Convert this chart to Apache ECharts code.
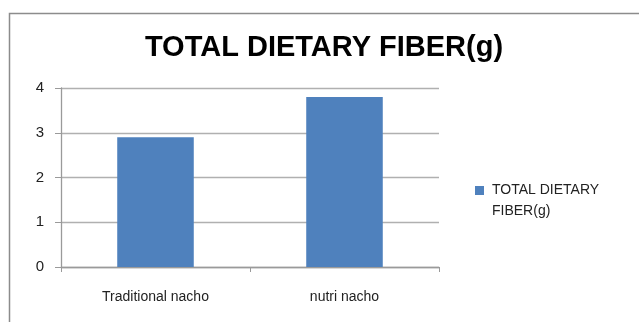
<!DOCTYPE html>
<html>
<head>
<meta charset="utf-8">
<script src="https://cdn.jsdelivr.net/npm/echarts@6/dist/echarts.min.js"></script>
<style>
  html, body { margin: 0; padding: 0; background: #fff; }
  #chart { width: 639px; height: 322px; }
</style>
</head>
<body>
<div id="chart"></div>
<script>
// Fibre content per product
const categories = ['Traditional nacho', 'nutri nacho'];
const fiberValues = [2.9, 3.8];
const seriesName = 'TOTAL DIETARY FIBER(g)';
const yTicks = [0, 1, 2, 3, 4];

const chart = echarts.init(document.getElementById('chart'), null, { renderer: 'canvas' });
const font = '"Liberation Sans", Arial, sans-serif';

// Legend marker: a 9px square at the top of a 9x30 box, so it sits beside
// the first line of the two-line legend label instead of between the lines.
const legendIcon = 'path://M0,0h9v9h-9zM0,30';

chart.setOption({
  animation: false,
  backgroundColor: '#ffffff',
  graphic: [{
    type: 'rect',
    left: 7, top: 11,
    shape: { width: 700, height: 400 },
    style: { fill: 'none', stroke: '#8c8c8c', lineWidth: 1.5 },
    silent: true
  }],
  title: {
    text: seriesName,
    left: 319, top: 28, textAlign: 'center',
    textStyle: { fontFamily: font, fontWeight: 'bold', fontSize: 29, color: '#000' }
  },
  legend: {
    data: [seriesName],
    left: 470, top: 175,
    itemWidth: 9, itemHeight: 30, itemGap: 6,
    icon: legendIcon,
    formatter: () => 'TOTAL DIETARY\nFIBER(g)',
    textStyle: { fontFamily: font, fontSize: 14, color: '#222', lineHeight: 21, padding: [0, 0, 0, 3] }
  },
  grid: { left: 61, top: 88, right: 200, bottom: 55 },
  xAxis: {
    type: 'category',
    data: categories,
    axisLine: { lineStyle: { color: '#9a9a9a', width: 1.3 } },
    axisTick: { show: true, length: 5, lineStyle: { color: '#9a9a9a' } },
    axisLabel: { fontFamily: font, fontSize: 14, color: '#222', margin: 23 }
  },
  yAxis: {
    type: 'value',
    min: yTicks[0], max: yTicks[yTicks.length - 1], interval: 1,
    axisLine: { show: true, lineStyle: { color: '#9a9a9a', width: 1.3 } },
    axisTick: { show: true, length: 6, lineStyle: { color: '#9a9a9a' } },
    splitLine: { lineStyle: { color: '#b0b0b0', width: 1.3 } },
    axisLabel: { fontFamily: font, fontSize: 15, color: '#222', margin: 17 }
  },
  series: [{
    name: seriesName,
    type: 'bar',
    data: fiberValues,
    barWidth: '40.5%',
    itemStyle: { color: '#4f81bd' }
  }]
});
</script>
</body>
</html>
